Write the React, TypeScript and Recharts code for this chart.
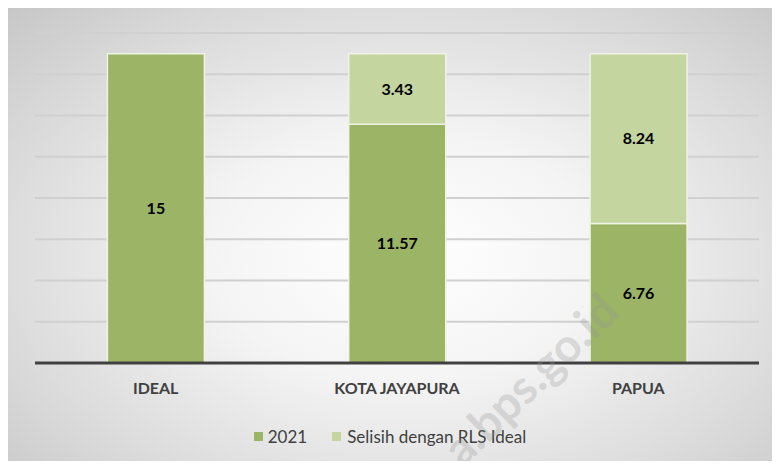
import { Bar, BarChart, CartesianGrid, LabelList, XAxis, YAxis } from "recharts";

const categories = ["IDEAL", "KOTA JAYAPURA", "PAPUA"];
const rls2021 = [15, 11.57, 6.76];
const selisih = [null, 3.43, 8.24];
const yTicks = [0, 2, 4, 6, 8, 10, 12, 14, 16];

const DARK = "#9bb466";
const LIGHT = "#c4d5a0";
const FONT = "Lato, 'Open Sans', sans-serif";

const data = categories.map((c, i) => ({
  name: c,
  y2021: rls2021[i],
  selisih: selisih[i],
}));

const LegendBox = () => (
  <div
    style={{
      position: "absolute",
      left: 0,
      top: 426,
      width: 780,
      display: "flex",
      justifyContent: "center",
      alignItems: "center",
      gap: 25,
      fontFamily: FONT,
      fontSize: 17,
      color: "#404040",
    }}
  >
    <span style={{ display: "flex", alignItems: "center", gap: 5 }}>
      <span style={{ width: 9, height: 9, background: DARK, display: "inline-block" }} />
      2021
    </span>
    <span style={{ display: "flex", alignItems: "center", gap: 6 }}>
      <span style={{ width: 9, height: 9, background: LIGHT, display: "inline-block" }} />
      Selisih dengan RLS Ideal
    </span>
  </div>
);

export default function App() {
  return (
    <div style={{ position: "relative", width: 780, height: 469, margin: -8, background: "#fff", overflow: "hidden" }}>
      <div
        style={{
          position: "absolute",
          left: 4,
          top: 4,
          width: 770,
          height: 459,
          border: "1px solid #bdbdbd",
          background: "radial-gradient(ellipse at 52% 55%, #ffffff 0%, #f4f4f4 35%, #d9d9d9 75%, #c6c6c6 100%)",
        }}
      />
      <div style={{ position: "absolute", left: 0, top: 0 }}>
        <BarChart
          width={780}
          height={469}
          data={data}
          barCategoryGap="30%"
          margin={{ top: 33, right: 21, bottom: 0, left: 35 }}
        >
          <CartesianGrid vertical={false} stroke="#d0d0d0" strokeWidth={2} />
          <YAxis hide domain={[0, 16]} ticks={yTicks} />
          <XAxis
            dataKey="name"
            height={106}
            axisLine={{ stroke: "#404040", strokeWidth: 3 }}
            tickLine={false}
            tick={{ fill: "#404040", fontFamily: FONT, fontWeight: 700, fontSize: 16 }}
            dy={12}
          />
          <Bar dataKey="y2021" stackId="a" fill={DARK} stroke="#eef3e4" strokeWidth={1.5} isAnimationActive={false}>
            <LabelList dataKey="y2021" position="center" fill="#000" fontFamily={FONT} fontWeight={700} fontSize={16} />
          </Bar>
          <Bar dataKey="selisih" stackId="a" fill={LIGHT} stroke="#eef3e4" strokeWidth={1.5} isAnimationActive={false}>
            <LabelList dataKey="selisih" position="center" fill="#000" fontFamily={FONT} fontWeight={700} fontSize={16} />
          </Bar>
        </BarChart>
      </div>
      <LegendBox />
      <div
        style={{
          position: "absolute",
          left: 468,
          top: 422,
          height: 52,
          lineHeight: "52px",
          fontFamily: FONT,
          fontWeight: 700,
          fontSize: 47,
          color: "rgba(150,150,150,0.3)",
          transform: "rotate(-44deg)",
          transformOrigin: "left bottom",
          whiteSpace: "nowrap",
          pointerEvents: "none",
        }}
      >
        a.bps.go.id
      </div>
    </div>
  );
}
